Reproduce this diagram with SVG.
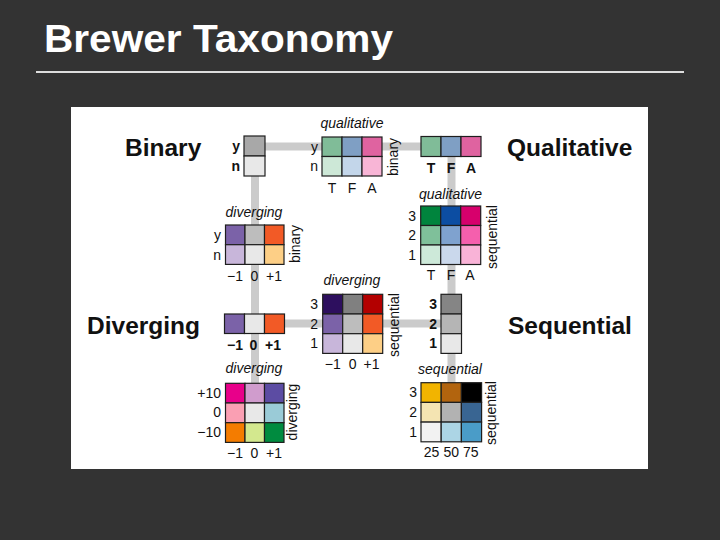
<svg xmlns="http://www.w3.org/2000/svg" width="720" height="540" viewBox="0 0 720 540">
<style>
text{font-family:"Liberation Sans",Arial,sans-serif;fill:#111}
.title{font-size:39px;font-weight:bold;fill:#fff}
.big{font-size:24.5px;font-weight:bold}
.it{font-size:14px;font-style:italic;text-anchor:middle}
.lb{font-size:14px}
.b{font-weight:bold}
.r{text-anchor:end}
.m{text-anchor:middle}
.c{stroke:#1e1e1e;stroke-width:1.2}
.conn{stroke:#cbcbcb;stroke-width:8;fill:none}
</style>
<rect x="0" y="0" width="720" height="540" fill="#333333"/>
<text class="title" x="44" y="52" textLength="349" lengthAdjust="spacingAndGlyphs">Brewer Taxonomy</text>
<line x1="36" y1="72" x2="684" y2="72" stroke="#dddddd" stroke-width="2"/>
<rect x="71" y="107" width="577" height="362" fill="#ffffff"/>

<g id="connectors">
<path class="conn" d="M265 146.5 H421 M255 176 V383 M284 323.5 H441 M451.5 156.5 V383"/>
</g>

<g id="binary">
<rect class="c" x="244" y="136" width="21" height="20" fill="#a8a8a8"/>
<rect class="c" x="244" y="156" width="21" height="20" fill="#e8e8e8"/>
<text class="lb b r" x="240" y="151">y</text>
<text class="lb b r" x="240" y="171">n</text>
<text class="big" x="125" y="156">Binary</text>
</g>

<g id="qualitative">
<rect class="c" x="421" y="136.5" width="20" height="20" fill="#80bc98"/>
<rect class="c" x="441" y="136.5" width="20" height="20" fill="#7f9fc4"/>
<rect class="c" x="461" y="136.5" width="20" height="20" fill="#df63a0"/>
<text class="lb b m" x="431" y="173">T</text>
<text class="lb b m" x="451" y="173">F</text>
<text class="lb b m" x="471" y="173">A</text>
<text class="big" x="507" y="156">Qualitative</text>
</g>

<g id="diverging">
<rect class="c" x="224.5" y="314" width="20" height="19.5" fill="#7b62a8"/>
<rect class="c" x="244.5" y="314" width="20" height="19.5" fill="#e8e8e8"/>
<rect class="c" x="264.5" y="314" width="20" height="19.5" fill="#f25a26"/>
<text class="lb b m" x="235" y="350">−1</text>
<text class="lb b m" x="253.5" y="350">0</text>
<text class="lb b m" x="273" y="350">+1</text>
<text class="big" x="87" y="334">Diverging</text>
</g>

<g id="sequential">
<rect class="c" x="441" y="294.3" width="20.5" height="19.7" fill="#858585"/>
<rect class="c" x="441" y="314" width="20.5" height="19.7" fill="#b5b5b5"/>
<rect class="c" x="441" y="333.7" width="20.5" height="19.7" fill="#e8e8e8"/>
<text class="lb b r" x="437" y="309">3</text>
<text class="lb b r" x="437" y="328.7">2</text>
<text class="lb b r" x="437" y="348.3">1</text>
<text class="big" x="508" y="334">Sequential</text>
</g>

<g id="binary-qualitative">
<text class="it" x="352" y="128">qualitative</text>
<rect class="c" x="322" y="137" width="20" height="19.5" fill="#80bc98"/>
<rect class="c" x="342" y="137" width="20" height="19.5" fill="#7f9fc4"/>
<rect class="c" x="362" y="137" width="20" height="19.5" fill="#df63a0"/>
<rect class="c" x="322" y="156.5" width="20" height="19.5" fill="#cde8d7"/>
<rect class="c" x="342" y="156.5" width="20" height="19.5" fill="#c3d6ea"/>
<rect class="c" x="362" y="156.5" width="20" height="19.5" fill="#f8b5d6"/>
<text class="lb r" x="318" y="151.5">y</text>
<text class="lb r" x="318" y="171">n</text>
<text class="lb m" x="332" y="193">T</text>
<text class="lb m" x="352" y="193">F</text>
<text class="lb m" x="372" y="193">A</text>
<text class="lb m" transform="translate(398,157) rotate(-90)">binary</text>
</g>

<g id="binary-diverging">
<text class="it" x="254" y="217">diverging</text>
<rect class="c" x="225.5" y="225" width="19.5" height="19.7" fill="#7b62a8"/>
<rect class="c" x="245" y="225" width="19.5" height="19.7" fill="#bdbdbd"/>
<rect class="c" x="264.5" y="225" width="19.5" height="19.7" fill="#f25a26"/>
<rect class="c" x="225.5" y="244.7" width="19.5" height="19.7" fill="#c8b6da"/>
<rect class="c" x="245" y="244.7" width="19.5" height="19.7" fill="#e8e8e8"/>
<rect class="c" x="264.5" y="244.7" width="19.5" height="19.7" fill="#fdcf86"/>
<text class="lb r" x="221" y="240">y</text>
<text class="lb r" x="221" y="259.5">n</text>
<text class="lb m" x="235" y="281">−1</text>
<text class="lb m" x="254.5" y="281">0</text>
<text class="lb m" x="274" y="281">+1</text>
<text class="lb m" transform="translate(300,244) rotate(-90)">binary</text>
</g>

<g id="qualitative-sequential">
<text class="it" x="450.5" y="199">qualitative</text>
<rect class="c" x="420.7" y="206" width="20" height="19.5" fill="#00843d"/>
<rect class="c" x="440.7" y="206" width="20" height="19.5" fill="#0c4da2"/>
<rect class="c" x="460.7" y="206" width="20" height="19.5" fill="#d7006c"/>
<rect class="c" x="420.7" y="225.5" width="20" height="19.5" fill="#7fc09a"/>
<rect class="c" x="440.7" y="225.5" width="20" height="19.5" fill="#7fa2cf"/>
<rect class="c" x="460.7" y="225.5" width="20" height="19.5" fill="#f55fad"/>
<rect class="c" x="420.7" y="245" width="20" height="19.5" fill="#cde9d9"/>
<rect class="c" x="440.7" y="245" width="20" height="19.5" fill="#cad8ec"/>
<rect class="c" x="460.7" y="245" width="20" height="19.5" fill="#f9b3d7"/>
<text class="lb r" x="416" y="220.5">3</text>
<text class="lb r" x="416" y="240">2</text>
<text class="lb r" x="416" y="260">1</text>
<text class="lb m" x="431" y="280">T</text>
<text class="lb m" x="451" y="280">F</text>
<text class="lb m" x="470" y="280">A</text>
<text class="lb m" transform="translate(496.5,237) rotate(-90)">sequential</text>
</g>

<g id="diverging-sequential">
<text class="it" x="352" y="285">diverging</text>
<rect class="c" x="322.7" y="294.3" width="20" height="19.7" fill="#2d0f5e"/>
<rect class="c" x="342.7" y="294.3" width="20" height="19.7" fill="#808080"/>
<rect class="c" x="362.7" y="294.3" width="20" height="19.7" fill="#b30000"/>
<rect class="c" x="322.7" y="314" width="20" height="19.7" fill="#7b62a8"/>
<rect class="c" x="342.7" y="314" width="20" height="19.7" fill="#bdbdbd"/>
<rect class="c" x="362.7" y="314" width="20" height="19.7" fill="#f25a26"/>
<rect class="c" x="322.7" y="333.7" width="20" height="19.7" fill="#c8b6da"/>
<rect class="c" x="342.7" y="333.7" width="20" height="19.7" fill="#e8e8e8"/>
<rect class="c" x="362.7" y="333.7" width="20" height="19.7" fill="#fdcf86"/>
<text class="lb r" x="318" y="309">3</text>
<text class="lb r" x="318" y="328.7">2</text>
<text class="lb r" x="318" y="348.3">1</text>
<text class="lb m" x="332.7" y="369">−1</text>
<text class="lb m" x="352.7" y="369">0</text>
<text class="lb m" x="371.5" y="369">+1</text>
<text class="lb m" transform="translate(398.5,325) rotate(-90)">sequential</text>
</g>

<g id="diverging-diverging">
<text class="it" x="254" y="373">diverging</text>
<rect class="c" x="225.5" y="383.3" width="19.5" height="19.7" fill="#e8008a"/>
<rect class="c" x="245" y="383.3" width="19.5" height="19.7" fill="#d09ccd"/>
<rect class="c" x="264.5" y="383.3" width="19.5" height="19.7" fill="#5c4ca3"/>
<rect class="c" x="225.5" y="403" width="19.5" height="19.7" fill="#fa9fb3"/>
<rect class="c" x="245" y="403" width="19.5" height="19.7" fill="#e8e8e8"/>
<rect class="c" x="264.5" y="403" width="19.5" height="19.7" fill="#9acbd7"/>
<rect class="c" x="225.5" y="422.7" width="19.5" height="19.7" fill="#f47c00"/>
<rect class="c" x="245" y="422.7" width="19.5" height="19.7" fill="#d3e88e"/>
<rect class="c" x="264.5" y="422.7" width="19.5" height="19.7" fill="#008b3f"/>
<text class="lb r" x="221" y="397.5">+10</text>
<text class="lb r" x="221" y="417">0</text>
<text class="lb r" x="221" y="436.5">−10</text>
<text class="lb m" x="235" y="458">−1</text>
<text class="lb m" x="254.5" y="458">0</text>
<text class="lb m" x="274" y="458">+1</text>
<text class="lb m" transform="translate(297,412) rotate(-90)">diverging</text>
</g>

<g id="sequential-sequential">
<text class="it" x="450" y="374">sequential</text>
<rect class="c" x="421" y="382.7" width="20.2" height="19.7" fill="#f2b400"/>
<rect class="c" x="441.2" y="382.7" width="20.2" height="19.7" fill="#b2640e"/>
<rect class="c" x="461.4" y="382.7" width="20.2" height="19.7" fill="#000000"/>
<rect class="c" x="421" y="402.4" width="20.2" height="19.7" fill="#f4e4b2"/>
<rect class="c" x="441.2" y="402.4" width="20.2" height="19.7" fill="#b2b2b2"/>
<rect class="c" x="461.4" y="402.4" width="20.2" height="19.7" fill="#396592"/>
<rect class="c" x="421" y="422.1" width="20.2" height="19.7" fill="#f2f2f2"/>
<rect class="c" x="441.2" y="422.1" width="20.2" height="19.7" fill="#acd5e5"/>
<rect class="c" x="461.4" y="422.1" width="20.2" height="19.7" fill="#4a9cc8"/>
<text class="lb r" x="417" y="397.3">3</text>
<text class="lb r" x="417" y="417">2</text>
<text class="lb r" x="417" y="436.7">1</text>
<text class="lb m" x="431.5" y="457">25</text>
<text class="lb m" x="451.2" y="457">50</text>
<text class="lb m" x="470.8" y="457">75</text>
<text class="lb m" transform="translate(496,413) rotate(-90)">sequential</text>
</g>
</svg>
